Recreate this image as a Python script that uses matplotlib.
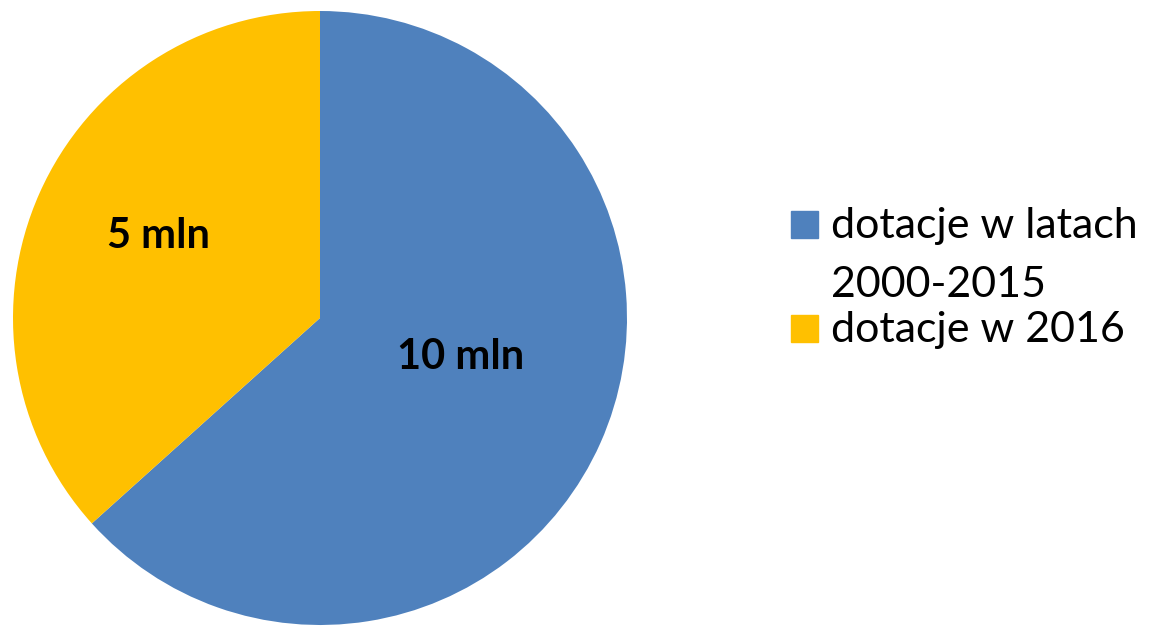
import matplotlib
matplotlib.use("Agg")
import matplotlib.pyplot as plt
from matplotlib.patches import Rectangle

plt.rcParams['font.family'] = ['Lato', 'DejaVu Sans']

# data
categories = ['dotacje w latach\n2000-2015', 'dotacje w 2016']
values = [9.5, 5.5]
value_labels = ['10 mln', '5 mln']
colors = ['#4F81BD', '#FFC000']

W, H = 1153, 626
fig = plt.figure(figsize=(W / 100, H / 100), dpi=100)

# pie: centre (320, 318) px, radius 307 px
cx, cy, r = 320, 318, 307
ax = fig.add_axes([(cx - r) / W, (H - cy - r) / H, 2 * r / W, 2 * r / H])
wedges, _ = ax.pie(values, colors=colors, startangle=90, counterclock=False,
                   radius=1, wedgeprops=dict(linewidth=0))
ax.set_xlim(-1, 1)
ax.set_ylim(-1, 1)
ax.set_aspect('equal')
ax.axis('off')

# data labels
label_pos = [(0.458, -0.127), (-0.526, 0.266)]
for (x, y), txt in zip(label_pos, value_labels):
    ax.text(x, y, txt, ha='center', va='center', fontsize=30,
            fontweight='bold', color='black')

# legend drawn by hand (marker aligned to first text line)
rows = [238, 342]          # baselines of each entry, px from top
for base, lab, col in zip(rows, categories, colors):
    fig.patches.append(Rectangle((791 / W, 1 - base / H), 27 / W, 27 / H,
                                 transform=fig.transFigure, color=col))
    lines = lab.split('\n')
    for i, line in enumerate(lines):
        fig.text(831 / W, 1 - (base + i * 59) / H, line, fontsize=31,
                 va='baseline', ha='left', color='black')

fig.savefig('out.png', dpi=100)
